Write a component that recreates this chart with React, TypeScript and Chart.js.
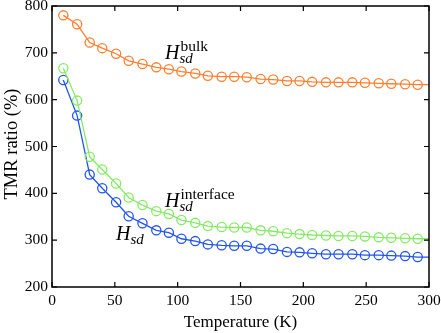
import React, { useEffect, useRef } from "react";
import { Chart, registerables } from "chart.js";

Chart.register(...registerables);

const temperature = [9, 20, 30, 40, 51, 61, 72, 83, 93, 103, 114, 124, 135, 145, 155, 166, 176, 187, 197, 207, 218, 228, 239, 249, 260, 270, 281, 291, 300];
const bulk = [780, 761, 722, 710, 698, 683, 676, 669, 665, 660, 656, 651, 649, 649, 648, 644, 643, 640, 640, 638, 637, 637, 637, 636, 635, 634, 633, 632, 632];
const interfaceVals = [667, 598, 478, 451, 421, 391, 375, 362, 356, 343, 337, 330, 328, 327, 327, 321, 319, 315, 313, 311, 310, 309, 309, 308, 306, 305, 304, 303, 303];
const total = [642, 566, 440, 411, 381, 351, 336, 321, 316, 303, 298, 291, 289, 288, 288, 282, 281, 275, 274, 272, 270, 270, 270, 268, 268, 267, 266, 264, 264];
const xTicks = [0, 50, 100, 150, 200, 250, 300];
const yTicks = [200, 300, 400, 500, 600, 700, 800];

const ORANGE = "#FF7F30";
const GREEN = "#86EA66";
const BLUE = "#2255EE";
const SERIF = "'Liberation Serif', 'Times New Roman', serif";

function pts(vals: number[]) {
  return vals.map((v, i) => ({ x: temperature[i], y: v }));
}
const radii = temperature.map((t) => (t >= 300 ? 0 : 4.6));

const framePlugin = {
  id: "frame",
  afterDraw(chart: any) {
    const { ctx, chartArea: a, scales } = chart;
    const xs = scales.x;
    const ys = scales.y;
    ctx.save();
    ctx.strokeStyle = "#000";
    ctx.lineWidth = 1.5;
    ctx.strokeRect(a.left, a.top, a.right - a.left, a.bottom - a.top);
    ctx.lineWidth = 1.2;
    ctx.beginPath();
    xTicks.forEach((t) => {
      const px = xs.getPixelForValue(t);
      ctx.moveTo(px, a.bottom);
      ctx.lineTo(px, a.bottom - 5);
      ctx.moveTo(px, a.top);
      ctx.lineTo(px, a.top + 5);
    });
    yTicks.forEach((t) => {
      const py = ys.getPixelForValue(t);
      ctx.moveTo(a.left, py);
      ctx.lineTo(a.left + 5, py);
      ctx.moveTo(a.right, py);
      ctx.lineTo(a.right - 5, py);
    });
    ctx.stroke();

    ctx.fillStyle = "#000";
    ctx.textAlign = "center";
    ctx.textBaseline = "alphabetic";
    ctx.font = `17px ${SERIF}`;
    ctx.fillText("Temperature (K)", (a.left + a.right) / 2, 327);
    ctx.save();
    ctx.font = `18.5px ${SERIF}`;
    ctx.translate(17, 144);
    ctx.rotate(-Math.PI / 2);
    ctx.fillText("TMR ratio (%)", 0, 0);
    ctx.restore();

    ctx.textAlign = "left";
    const label = (x: number, yb: number, sup: string | null) => {
      ctx.font = `italic 20px ${SERIF}`;
      ctx.fillText("H", x, yb);
      const w = ctx.measureText("H").width;
      ctx.font = `italic 15px ${SERIF}`;
      ctx.fillText("sd", x + w, yb + 4);
      if (sup) {
        ctx.font = `15.5px ${SERIF}`;
        ctx.fillText(sup, x + w + 1, yb - 8);
      }
    };
    label(165, 59, "bulk");
    label(165, 207, "interface");
    label(116, 240, null);
    ctx.restore();
  },
};

export default function App() {
  const ref = useRef<HTMLCanvasElement>(null);
  useEffect(() => {
    if (!ref.current) return;
    const ds = (vals: number[], color: string) => ({
      data: pts(vals),
      borderColor: color,
      backgroundColor: "rgba(0,0,0,0)",
      borderWidth: 1.3,
      pointRadius: radii,
      pointBorderWidth: 1.3,
      pointBorderColor: color,
      pointBackgroundColor: "rgba(0,0,0,0)",
      pointStyle: "circle",
      tension: 0,
    });
    const chart = new Chart(ref.current, {
      type: "line",
      data: {
        datasets: [ds(bulk, ORANGE), ds(interfaceVals, GREEN), ds(total, BLUE)],
      },
      options: {
        animation: false,
        responsive: false,
        layout: { padding: { top: 6, right: 12, left: 0, bottom: 0 } },
        plugins: { legend: { display: false }, tooltip: { enabled: false } },
        scales: {
          x: {
            type: "linear",
            min: 0,
            max: 300,
            afterBuildTicks: (s: any) => {
              s.ticks = xTicks.map((v) => ({ value: v }));
            },
            grid: { display: false, drawTicks: false },
            border: { display: false },
            ticks: { font: { family: SERIF, size: 15.5 }, color: "#000", padding: 5, maxRotation: 0 },
            afterFit: (s: any) => {
              s.height = 46;
              s.paddingLeft = 0;
              s.paddingRight = 0;
            },
          },
          y: {
            type: "linear",
            min: 200,
            max: 800,
            afterBuildTicks: (s: any) => {
              s.ticks = yTicks.map((v) => ({ value: v }));
            },
            grid: { display: false, drawTicks: false },
            border: { display: false },
            ticks: { font: { family: SERIF, size: 15.5 }, color: "#000", padding: 4 },
            afterFit: (s: any) => {
              s.width = 52;
              s.paddingTop = 0;
              s.paddingBottom = 0;
            },
          },
        },
      },
      plugins: [framePlugin],
    });
    return () => chart.destroy();
  }, []);
  return (
    <div style={{ position: "fixed", left: 0, top: 0, width: 441, height: 333, background: "#fff" }}>
      <canvas ref={ref} width={441} height={333} />
    </div>
  );
}
